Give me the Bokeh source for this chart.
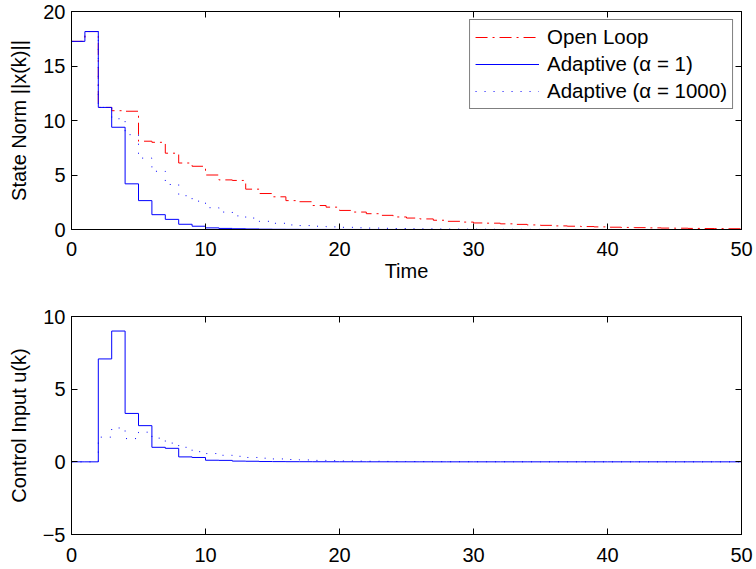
from bokeh.plotting import figure
from bokeh.layouts import column
from bokeh.models import LinearAxis, Range1d, FixedTicker, Legend, LegendItem
from bokeh.embed import file_html
from bokeh.resources import INLINE

# ---------------- data ----------------
k = list(range(51))

state_open_loop = [17.26, 18.16, 11.2, 10.9, 10.85, 8.1, 8.0, 7.0, 6.1, 5.8,
                   5.0, 4.55, 4.5, 3.7, 3.3, 3.0, 2.65, 2.55, 2.2, 2.05,
                   1.75, 1.6, 1.45, 1.3, 1.15, 1.05, 0.97, 0.85, 0.75, 0.68,
                   0.6, 0.58, 0.52, 0.47, 0.42, 0.38, 0.33, 0.3, 0.27, 0.24,
                   0.21, 0.19, 0.17, 0.15, 0.13, 0.12, 0.1, 0.09, 0.08, 0.07, 0.06]

state_alpha_1 = [17.26, 18.16, 11.2, 9.38, 4.19, 2.65, 1.36, 0.93, 0.48, 0.3,
                 0.15, 0.1, 0.07, 0.05, 0.03, 0.02, 0.015, 0.01, 0.008, 0.006,
                 0.005, 0.004, 0.003, 0.003, 0.002, 0.002, 0.002, 0.001, 0.001, 0.001,
                 0.001, 0.001, 0.0, 0.0, 0.0, 0.0, 0.0, 0.0, 0.0, 0.0,
                 0.0, 0.0, 0.0, 0.0, 0.0, 0.0, 0.0, 0.0, 0.0, 0.0, 0.0]

state_alpha_1000 = [17.26, 18.16, 11.2, 10.16, 8.7, 6.55, 5.34, 4.13, 3.1, 2.6,
                    2.0, 1.6, 1.25, 1.05, 0.75, 0.57, 0.42, 0.36, 0.3, 0.24,
                    0.2, 0.16, 0.13, 0.11, 0.09, 0.07, 0.06, 0.05, 0.04, 0.03,
                    0.025, 0.02, 0.017, 0.014, 0.012, 0.01, 0.008, 0.007, 0.006, 0.005,
                    0.004, 0.003, 0.003, 0.002, 0.002, 0.002, 0.001, 0.001, 0.001, 0.001, 0.001]

control_alpha_1 = [0.0, 0.0, 7.08, 9.0, 3.33, 2.49, 1.0, 0.93, 0.34, 0.3,
                   0.11, 0.1, 0.05, 0.04, 0.02, 0.015, 0.01, 0.008, 0.006, 0.005,
                   0.004, 0.003, 0.002, 0.002, 0.001, 0.001, 0.001, 0.0, 0.0, 0.0,
                   0.0, 0.0, 0.0, 0.0, 0.0, 0.0, 0.0, 0.0, 0.0, 0.0,
                   0.0, 0.0, 0.0, 0.0, 0.0, 0.0, 0.0, 0.0, 0.0, 0.0, 0.0]

control_alpha_1000 = [0.0, 0.0, 1.7, 2.33, 1.6, 2.04, 1.63, 1.29, 1.0, 0.7,
                      0.57, 0.45, 0.38, 0.3, 0.25, 0.2, 0.16, 0.13, 0.1, 0.08,
                      0.06, 0.05, 0.04, 0.03, 0.025, 0.02, 0.016, 0.013, 0.01, 0.008,
                      0.006, 0.005, 0.004, 0.003, 0.003, 0.002, 0.002, 0.001, 0.001, 0.001,
                      0.001, 0.0, 0.0, 0.0, 0.0, 0.0, 0.0, 0.0, 0.0, 0.0, 0.0]

x_ticks = [0, 10, 20, 30, 40, 50]
top_y_ticks = [0, 5, 10, 15, 20]
bottom_y_ticks = [-5, 0, 5, 10]

series_labels = ["Open Loop", "Adaptive (\u03b1 = 1)", "Adaptive (\u03b1 = 1000)"]

# ---------------- style ----------------
FONT = "Liberation Sans"
FS = "20px"
LEG_FS = "20.5px"
RED = "#ff0000"
BLUE = "#0000ff"
DASHDOT = "12 5 2 5"
DOTTED = "1 8"


def style_axis(ax, ticks, labels=True, overrides=None):
    ax.ticker = FixedTicker(ticks=ticks)
    ax.major_tick_in = 6
    ax.major_tick_out = 0
    ax.minor_tick_line_color = None
    ax.axis_line_color = "black"
    ax.major_tick_line_color = "black"
    ax.major_label_text_font = FONT
    ax.axis_label_text_font = FONT
    ax.axis_label_text_font_style = "normal"
    ax.axis_label_text_color = "black"
    ax.axis_label_text_font_size = FS
    if labels:
        ax.major_label_text_font_size = FS
        ax.major_label_text_color = "black"
    else:
        ax.major_label_text_font_size = "0px"
        ax.major_label_text_color = None
        ax.major_label_standoff = 0
    if overrides:
        ax.major_label_overrides = overrides


def make_fig(height, yr, yticks, border_top, border_bottom, ylabel,
             xlabel=None, overrides=None, x_standoff=8):
    p = figure(width=756, height=height, output_backend="svg", toolbar_location=None,
               x_range=Range1d(0, 50), y_range=Range1d(*yr),
               min_border_left=71, min_border_right=15,
               min_border_top=border_top, min_border_bottom=border_bottom)
    p.xgrid.visible = False
    p.ygrid.visible = False
    p.outline_line_color = "black"
    p.outline_line_width = 1
    p.background_fill_color = "white"
    p.border_fill_color = "white"
    style_axis(p.xaxis[0], x_ticks)
    style_axis(p.yaxis[0], yticks, overrides=overrides)
    p.xaxis[0].major_label_standoff = x_standoff
    p.yaxis[0].major_label_standoff = 6
    p.yaxis[0].axis_label = ylabel
    p.yaxis[0].axis_label_standoff = 10
    if xlabel:
        p.xaxis[0].axis_label = xlabel
        p.xaxis[0].axis_label_standoff = 1
    top_ax = LinearAxis()
    style_axis(top_ax, x_ticks, labels=False)
    right_ax = LinearAxis()
    style_axis(right_ax, yticks, labels=False)
    p.add_layout(top_ax, "above")
    p.add_layout(right_ax, "right")
    return p


# ---------------- top plot ----------------
p1 = make_fig(297, (0, 20), top_y_ticks, 11, 68, "State Norm ||x(k)||",
              xlabel="Time", x_standoff=12)
r_open = p1.step(k, state_open_loop, mode="after", line_color=RED, line_width=1, line_dash=DASHDOT)
r_a1 = p1.step(k, state_alpha_1, mode="after", line_color=BLUE, line_width=1)
r_a1000 = p1.step(k, state_alpha_1000, mode="after", line_color=BLUE, line_width=1, line_dash=DOTTED)

legend = Legend(items=[LegendItem(label=series_labels[0], renderers=[r_open]),
                       LegendItem(label=series_labels[1], renderers=[r_a1]),
                       LegendItem(label=series_labels[2], renderers=[r_a1000])],
                location="top_right")
legend.margin = 8
legend.padding = 5
legend.spacing = 3
legend.label_height = 20
legend.glyph_height = 20
legend.glyph_width = 64
legend.label_standoff = 8
legend.label_text_font = FONT
legend.label_text_font_size = LEG_FS
legend.label_text_color = "black"
legend.border_line_color = "black"
legend.border_line_width = 1
legend.background_fill_alpha = 1
p1.add_layout(legend)

# ---------------- bottom plot ----------------
p2 = make_fig(272, (-5, 10), bottom_y_ticks, 19, 35, "Control Input u(k)",
              overrides={-5: "\u22125"}, x_standoff=13)
p2.step(k, control_alpha_1, mode="after", line_color=BLUE, line_width=1)
p2.step(k, control_alpha_1000, mode="after", line_color=BLUE, line_width=1, line_dash=DOTTED)

layout = column(p1, p2, spacing=0)
open("out.html", "w").write(file_html(layout, INLINE))
